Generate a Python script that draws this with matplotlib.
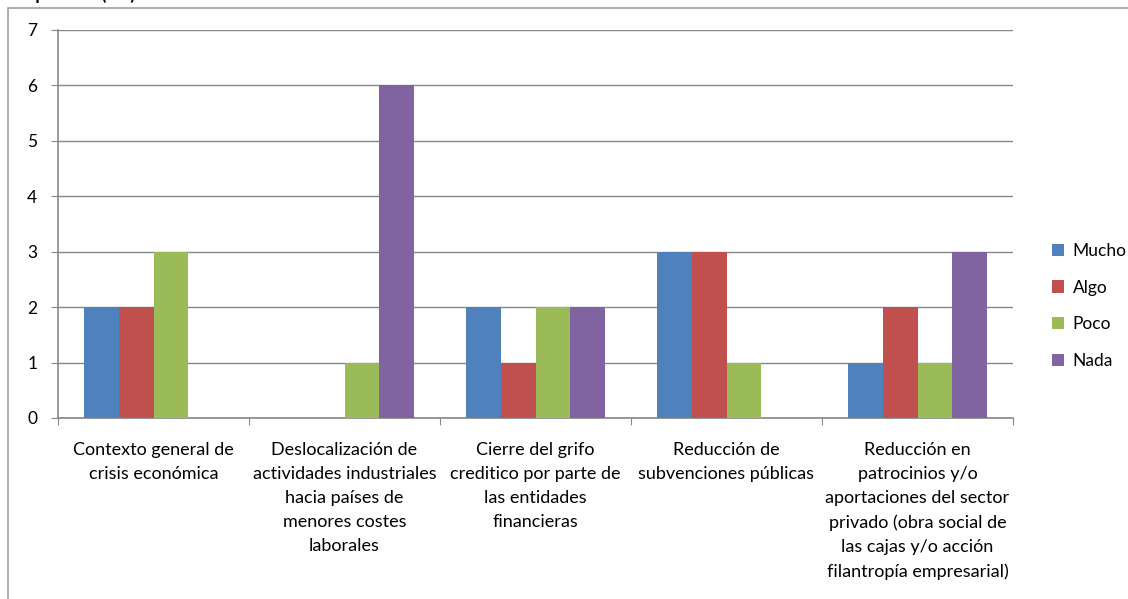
import matplotlib
matplotlib.use('Agg')
import matplotlib.pyplot as plt
import numpy as np
from matplotlib.patches import Rectangle

plt.rcParams['font.family'] = ['Lato', 'DejaVu Sans']

# Data
categories = [
    'Contexto general de\ncrisis económica',
    'Deslocalización de\nactividades industriales\nhacia países de\nmenores costes\nlaborales',
    'Cierre del grifo\ncreditico por parte de\nlas entidades\nfinancieras',
    'Reducción de\nsubvenciones públicas',
    'Reducción en\npatrocinios y/o\naportaciones del sector\nprivado (obra social de\nlas cajas y/o acción\nfilantropía empresarial)',
]
series_names = ['Mucho', 'Algo', 'Poco', 'Nada']
mucho = [2, 0, 2, 3, 1]
algo = [2, 0, 1, 3, 2]
poco = [3, 1, 2, 1, 1]
nada = [0, 6, 2, 0, 3]
colors = ['#4F81BD', '#C0504D', '#9BBB59', '#8064A2']
y_ticks = [0, 1, 2, 3, 4, 5, 6, 7]

fig = plt.figure(figsize=(11.28, 5.99), dpi=100)
ax = fig.add_axes([58 / 1128, 1 - 418 / 599, 955 / 1128, 388 / 599])

# outer chart frame (only top and left edges are visible in the crop)
fig.patches.append(Rectangle((8 / 1128, -0.1), 1.2, 1 - 8 / 599 + 0.1,
                             transform=fig.transFigure, fill=False,
                             edgecolor='#A0A0A0', linewidth=1.2))
# cropped title at the very top
fig.text(0.005, 1 - 3 / 599, 'Respuestas (CC)', fontsize=13, fontweight='bold',
         va='bottom', ha='left', color='#000000')

x = np.arange(len(categories))
bw = 0.183
for i, (vals, name) in enumerate(zip([mucho, algo, poco, nada], series_names)):
    ax.bar(x - 1.5 * bw + i * bw, vals, width=bw, color=colors[i], label=name,
           zorder=3)

ax.set_xlim(-0.5, len(categories) - 0.5)
ax.set_ylim(0, 7)
ax.set_yticks(y_ticks)
ax.set_yticklabels([str(v) for v in y_ticks], fontsize=12.5)
ax.yaxis.grid(True, color='#878787', linewidth=1, zorder=0)

ax.set_xticks(np.arange(len(categories) + 1) - 0.5)
ax.set_xticklabels([])
ax.set_xticks(x, minor=True)
ax.set_xticklabels(categories, minor=True, fontsize=13, linespacing=1.62,
                   va='top', ha='center')
ax.tick_params(axis='x', which='minor', length=0, pad=17)
ax.tick_params(axis='x', which='major', length=5, color='#878787', direction='out')
ax.tick_params(axis='y', length=5, color='#878787', pad=10, direction='out')

for s in ['top', 'right']:
    ax.spines[s].set_visible(False)
for s in ['left', 'bottom']:
    ax.spines[s].set_color('#878787')
    ax.spines[s].set_linewidth(1.2)

leg = fig.legend(loc='center left', bbox_to_anchor=(1036 / 1128, 1 - 306 / 599),
                 frameon=False, fontsize=12.5, handlelength=0.7, handleheight=0.7,
                 labelspacing=1.2, handletextpad=0.5)

fig.savefig('out.png', dpi=100)
